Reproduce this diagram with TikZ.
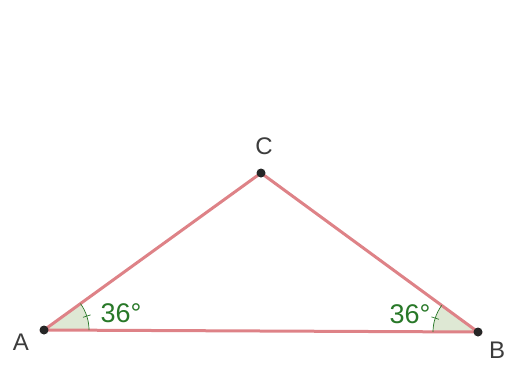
\documentclass[tikz,border=0pt]{standalone}
\usepackage{fontspec}
\setmainfont{Liberation Sans}
\usetikzlibrary{calc}
\definecolor{seg}{RGB}{222,130,135}
\definecolor{angfill}{RGB}{222,232,212}
\definecolor{angline}{RGB}{40,120,40}
\definecolor{lbl}{RGB}{60,60,60}
\tikzset{
  pt/.style={circle,fill=black!85,inner sep=0pt,minimum size=9pt},
  ptlabel/.style={text=lbl,font=\fontsize{24}{24}\selectfont},
  anglabel/.style={text=angline,font=\fontsize{27}{27}\selectfont},
  side/.style={draw=seg,line width=3pt},
  angarc/.style={draw=angline,line width=0.7pt}
}
\begin{document}
\begin{tikzpicture}[x=1pt,y=-1pt]
\useasboundingbox (0,0) rectangle (511,364);
\coordinate (A) at (44,330);
\coordinate (B) at (478,332);
\coordinate (C) at (261,173);
% angle sectors
\fill[angfill] (A) -- ($(A)!45pt!(B)$) arc[start angle=0.26,end angle=-35.9,radius=45] -- cycle;
\fill[angfill] (B) -- ($(B)!45pt!(A)$) arc[start angle=180.26,end angle=216.2,radius=45] -- cycle;
\draw[side] (A) -- (B) -- (C) -- cycle;
\draw[angarc] ($(A)!45pt!(B)$) arc[start angle=0.26,end angle=-35.9,radius=45];
\draw[angarc] ($(B)!45pt!(A)$) arc[start angle=180.26,end angle=216.2,radius=45];
\draw[angarc] ($(A)+(-18:41)$) -- ($(A)+(-18:49)$);
\draw[angarc] ($(B)+(198:41)$) -- ($(B)+(198:49)$);
\node[pt] (a) at (A) {};
\node[pt] (b) at (B) {};
\node[pt] (c) at (C) {};
\node[ptlabel] (la) at (21,342) {A};
\node[ptlabel] (lb) at (497,350) {B};
\node[ptlabel] (lc) at (264,146) {C};
\node[anglabel] (alA) at (121,313) {36°};
\node[anglabel] (alB) at (410,314) {36°};
\end{tikzpicture}
\end{document}
